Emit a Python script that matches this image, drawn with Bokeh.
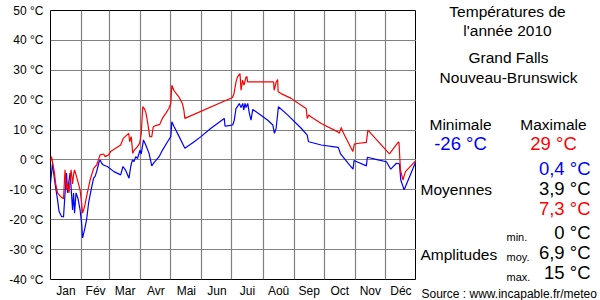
from bokeh.plotting import figure
from bokeh.models import FixedTicker, Range1d
from bokeh.layouts import row, column
from bokeh.core.properties import value
from bokeh.embed import file_html
from bokeh.resources import INLINE

# ---- data ----
tmax_days = [0, 1, 4, 5, 7, 10, 13, 14.5, 16, 17, 18.5, 20.5, 22, 23, 24, 26, 29.5, 31, 32, 34, 36,
             39.5, 43, 46, 49.5, 53, 54.5, 58, 60, 70, 72.5, 78, 79, 80.5, 82, 83, 86.5, 89, 90.5,
             92, 93.5, 95, 96.5, 98, 99, 101, 102.5, 105, 109, 111.5, 115, 118, 120, 121, 123, 128,
             131.5, 133, 134, 181.5, 183, 185, 186.5, 189, 190, 191.5, 193, 195, 196, 196.5, 222.5,
             223, 225, 226.5, 227, 230, 240, 250, 255, 256, 257.5, 260, 270, 286.5, 288, 290, 291.5,
             301.5, 303, 306, 315, 316.5, 338, 346.5, 347.5, 349, 351.5, 352.5, 354, 365]
tmax_vals = [-0.6, 1.1, -4.4, -7.7, -11, -12.2, -13, -3.3, -10, -8, -11, -3.3, -8, -5, -3.3, -5.6,
             -10, -14.4, -17.8, -15.6, -12.2, -6.7, -2.8, -1.7, 1.7, 2, 1.1, 1.7, 2.8, 5, 7.2, 8.9,
             6.1, 7.8, 2.2, 3, 4.4, 5.6, 8.9, 17.8, 17.2, 16, 13.3, 10, 7.8, 7.8, 11.1, 11.5, 11.9,
             13.9, 15.6, 17.2, 18.9, 25, 23.3, 21.1, 18.9, 16.7, 13.9, 20.9, 22.2, 26.1, 27.8, 28.9,
             23.3, 26.7, 25, 27.8, 27.8, 26.1, 26.1, 23.3, 26, 26.9, 22.8, 22.2, 20.6, 18.3, 17.2,
             13.9, 15, 14.4, 12.2, 9.4, 8.9, 10.9, 9.4, 2.8, 5.3, 5.5, 5.9, 10, 2, 5.8, 6, -3.3,
             -6.7, -5.5, -3.9, 0]

tmin_days = [0, 2, 3, 5, 7, 8.5, 11, 13, 14.5, 16, 17, 18, 19.5, 20.5, 22, 23, 24, 25.5, 27.5, 29.5,
             31, 32, 34, 36, 38, 40.5, 43, 44.5, 46, 48.5, 49.5, 51, 52.7, 56.7, 63.3, 70, 72.3, 75,
             78.3, 80, 81.7, 83.3, 85, 86.7, 89.3, 90.5, 92.7, 95, 98.3, 101, 103, 108.3, 111.7,
             116.7, 120, 121, 123.3, 128.3, 134, 143.3, 150, 160, 173.3, 174, 175, 181.7, 183.3, 185,
             186.7, 188.3, 190, 191.7, 192.7, 194, 195, 196.7, 198.3, 200, 201.7, 216.7, 221.7,
             223.3, 225, 227.3, 236.7, 250, 256, 257.3, 258.5, 270, 283.3, 287, 289.3, 296.7, 301.7,
             302.7, 305, 315, 316, 326.7, 335, 339.3, 345, 348, 349.3, 352.7, 365]
tmin_vals = [-7.8, -1.1, -4, -8.9, -13.3, -17.2, -18.9, -19.1, -11.1, -4.4, -11, -8, -4.4, -9, -16.7,
             -11.1, -17.8, -11, -13, -16.7, -21.1, -26.1, -23.3, -20, -14.4, -10, -6.1, -5.5, -3.9,
             -0.6, 0, -1.1, -1.7, -2.2, -3.9, -5, -2.2, -3.5, -6.1, -2.2, 0, -0.5, 1.1, 0.5, 3.3, 2,
             6.7, 5, 2.2, -2, -1, 1.1, 3.3, 6.1, 7.8, 12.8, 11.1, 7.8, 3.9, 6.1, 7.8, 10.6, 13.9,
             11.4, 11.3, 11.7, 13.3, 17.2, 18, 18.9, 17.5, 18.9, 16.7, 18.9, 17.5, 18.9, 15.6, 13.3,
             16.9, 13.3, 11.7, 8.9, 10.5, 17.8, 15, 10.6, 8.3, 6.1, 6, 5, 4.4, 4.2, 2, -1.1, -3.1,
             -0.2, -0.5, -2, 0.9, 0, -0.6, -3.1, -1.1, -1.3, -6.7, -10, 0]

month_labels = ["Jan", "Fév", "Mar", "Avr", "Mai", "Jun", "Jui", "Aoû", "Sep", "Oct", "Nov", "Déc"]
month_starts = [0, 31, 59, 90, 120, 151, 181, 212, 243, 273, 304, 334, 365]
y_ticks = [-40, -30, -20, -10, 0, 10, 20, 30, 40, 50]

title_lines = ["Températures de", "l'année 2010", "Grand Falls", "Nouveau-Brunswick"]
stat_headers = ["Minimale", "Maximale"]
stat_min = "-26 °C"
stat_max = "29 °C"
moyennes = ["0,4 °C", "3,9 °C", "7,3 °C"]
amplitudes = ["0 °C", "6,9 °C", "15 °C"]
amp_names = ["min.", "moy.", "max."]
source = "Source : www.incapable.fr/meteo"

FONT = "Liberation Sans"

# ---- main chart ----
p = figure(width=416, height=300, output_backend="svg", toolbar_location=None,
           x_range=Range1d(0, 365), y_range=Range1d(-40, 50),
           min_border_left=50, min_border_right=0, min_border_top=10, min_border_bottom=20)
p.outline_line_color = "black"
p.outline_line_width = 1
p.border_fill_color = "white"

mid = [(month_starts[i] + month_starts[i + 1]) / 2 for i in range(12)]
p.xaxis.ticker = FixedTicker(ticks=mid)
p.xaxis.major_label_overrides = {m: lab for m, lab in zip(mid, month_labels)}
p.yaxis.ticker = FixedTicker(ticks=y_ticks)
p.yaxis.major_label_overrides = {v: f"{v} °C" for v in y_ticks}
for ax in (p.xaxis[0], p.yaxis[0]):
    ax.axis_line_color = None
    ax.major_tick_line_color = None
    ax.minor_tick_line_color = None
    ax.major_tick_out = 0
    ax.major_tick_in = 0
    ax.major_label_text_font = FONT
    ax.major_label_text_font_size = "12px"
    ax.major_label_text_color = "black"
p.xaxis.major_label_standoff = 4
p.yaxis.major_label_standoff = 7

p.xgrid.ticker = FixedTicker(ticks=month_starts)
p.ygrid.ticker = FixedTicker(ticks=y_ticks)
for g in (p.xgrid[0], p.ygrid[0]):
    g.grid_line_color = "#808080"
    g.grid_line_width = 1.2

p.line(tmin_days, tmin_vals, line_color="#0000ff", line_width=1.2)
p.line(tmax_days, tmax_vals, line_color="#ff0000", line_width=1.2)

# ---- side panel: pixel coordinate space (x from 416 to 600 of the page, y downwards) ----
s = figure(width=184, height=300, output_backend="svg", toolbar_location=None,
           x_range=Range1d(416, 600), y_range=Range1d(300, 0),
           min_border=0, min_border_left=0, min_border_right=0, min_border_top=0, min_border_bottom=0)
s.axis.visible = False
s.grid.visible = False
s.outline_line_color = None
s.border_fill_color = "white"


def txt(xs, ys, texts, size, color="black", align="center"):
    s.text(x=xs, y=ys, text=texts, text_font=value(FONT), text_font_size=value(size),
           text_color=color, text_align=align, text_baseline="middle")


txt([507, 507, 508, 508], [11, 30, 57, 77], title_lines, "15.5px")
txt([460, 553], [124, 124], stat_headers, "15.5px")
txt([460], [143], [stat_min], "18.5px", "#0000ff")
txt([553], [143], [stat_max], "18.5px", "#ff0000")
txt([590], [168], [moyennes[0]], "18.5px", "#0000ff", "right")
txt([590], [188], [moyennes[1]], "18.5px", "black", "right")
txt([590], [208], [moyennes[2]], "18.5px", "#ff0000", "right")
txt([420], [189], ["Moyennes"], "15.5px", "black", "left")
txt([590, 590, 590], [232, 252, 272], amplitudes, "18.5px", "black", "right")
txt([506, 506, 506], [236, 256, 276], amp_names, "11px", "black", "left")
txt([420], [254], ["Amplitudes"], "15.5px", "black", "left")
txt([421], [293], [source], "12px", "black", "left")

layout = row(p, column(s, spacing=0), spacing=0)
open("out.html", "w").write(file_html(layout, INLINE))
